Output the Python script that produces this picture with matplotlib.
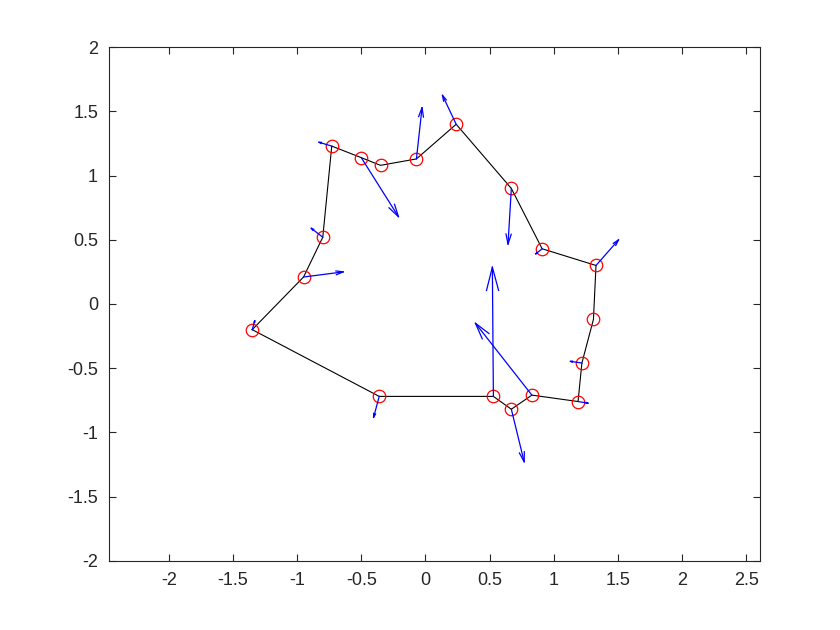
import numpy as np
import matplotlib.pyplot as plt

plt.rcParams["font.family"] = ["Liberation Sans", "DejaVu Sans"]

# polygon vertices (closed)
x_pts = [-1.35, -0.95, -0.80, -0.73, -0.50, -0.35, -0.07, 0.24, 0.67, 0.91,
         1.33, 1.31, 1.22, 1.19, 0.83, 0.67, 0.53, -0.36]
y_pts = [-0.20, 0.21, 0.52, 1.23, 1.14, 1.08, 1.13, 1.40, 0.90, 0.43,
         0.30, -0.12, -0.46, -0.76, -0.71, -0.82, -0.72, -0.72]

# arrow vectors at each vertex
u_vec = [0.02, 0.31, -0.09, -0.10, 0.29, 0.0, 0.044, -0.107, -0.026, -0.05,
         0.176, 0.0, -0.09, 0.078, -0.44, 0.10, -0.008, -0.044]
v_vec = [0.07, 0.04, 0.07, 0.03, -0.46, 0.0, 0.40, 0.226, -0.434, -0.04,
         0.20, 0.0, 0.013, -0.013, 0.56, -0.41, 1.007, -0.164]

x_ticks = [-2, -1.5, -1, -0.5, 0, 0.5, 1, 1.5, 2, 2.5]
y_ticks = [-2, -1.5, -1, -0.5, 0, 0.5, 1, 1.5, 2]

fig = plt.figure(figsize=(8.4, 6.3), dpi=100)
ax = fig.add_axes([0.13, 0.11, 0.775, 0.815])

xs = np.array(x_pts)
ys = np.array(y_pts)
ax.plot(np.append(xs, xs[0]), np.append(ys, ys[0]), color="black", linewidth=0.8)
ax.plot(xs, ys, linestyle="none", marker="o", markersize=9,
        markerfacecolor="none", markeredgecolor="red", markeredgewidth=0.9)

# MATLAB-style quiver arrows with open heads proportional to length
for x0, y0, u, v in zip(x_pts, y_pts, u_vec, v_vec):
    if u == 0 and v == 0:
        continue
    x1, y1 = x0 + u, y0 + v
    hl = 0.18
    hw = 0.26 * hl
    ax.plot([x0, x1], [y0, y1], color="blue", linewidth=0.9)
    ax.plot([x1 - hl * u - hw * v, x1, x1 - hl * u + hw * v],
            [y1 - hl * v + hw * u, y1, y1 - hl * v - hw * u],
            color="blue", linewidth=0.9)

ax.set_xlim(-2.465, 2.61)
ax.set_ylim(-2, 2)
ax.set_xticks(x_ticks)
ax.set_xticklabels(["-2", "-1.5", "-1", "-0.5", "0", "0.5", "1", "1.5", "2", "2.5"])
ax.set_yticks(y_ticks)
ax.set_yticklabels(["-2", "-1.5", "-1", "-0.5", "0", "0.5", "1", "1.5", "2"])
ax.tick_params(direction="in", top=True, right=True, length=5, width=0.8,
               labelsize=13, colors="#262626", pad=8)
for s in ax.spines.values():
    s.set_linewidth(0.8)
    s.set_color("#262626")

fig.savefig("out.png", dpi=100)
